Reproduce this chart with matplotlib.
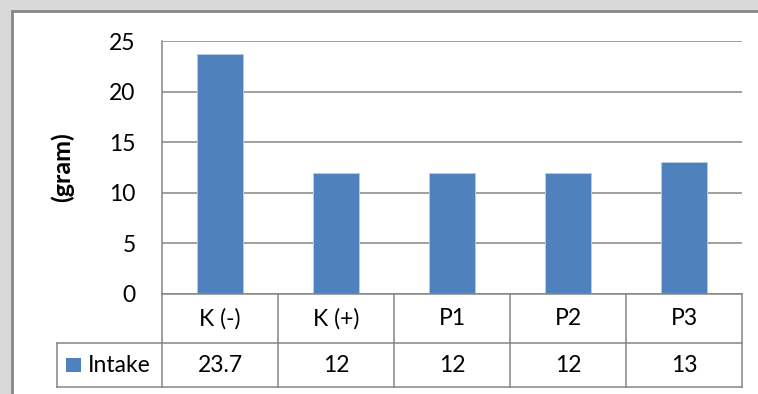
import matplotlib.pyplot as plt
import matplotlib.patches as mpatches

# data
categories = ["K (-)", "K (+)", "P1", "P2", "P3"]
intake = [23.7, 12, 12, 12, 13]
series_name = "Intake"
y_ticks = [0, 5, 10, 15, 20, 25]

plt.rcParams["font.family"] = ["Lato", "DejaVu Sans"]
fs = 16.5

w_pix, h_pix = 758, 394
dpi = 100
fig = plt.figure(figsize=(w_pix / dpi, h_pix / dpi), dpi=dpi, facecolor="#d9d9d9")

# chart frame (cropped on right/bottom)
frame = mpatches.Rectangle((12 / w_pix, -0.1), 1.2, 1 - 11 / h_pix + 0.1,
                           transform=fig.transFigure, facecolor="white",
                           edgecolor="#868686", linewidth=2.0, zorder=-10)
fig.patches.append(frame)

# plot area in pixels
left, top, right, bottom = 162, 41, 742, 294
ax = fig.add_axes([left / w_pix, 1 - bottom / h_pix, (right - left) / w_pix, (bottom - top) / h_pix])
ax.set_facecolor("none")

bar_color = "#4f81bd"
ax.bar(range(len(categories)), intake, width=0.4, color=bar_color,
       edgecolor="#b4cbe8", linewidth=0.7, zorder=3)

ax.set_xlim(-0.5, len(categories) - 0.5)
ax.set_ylim(0, 25)
ax.set_yticks(y_ticks)
ax.yaxis.grid(True, color="#858585", linewidth=1.1, zorder=0)
ax.set_axisbelow(True)
ax.set_xticks([])
ax.tick_params(axis="y", length=0, pad=19, labelsize=fs, labelcolor="black")
for s in ["top", "right", "bottom"]:
    ax.spines[s].set_visible(False)
ax.spines["left"].set_color("#858585")
ax.spines["left"].set_linewidth(1.1)

fig.text(62 / w_pix, 1 - 167.5 / h_pix, "(gram)", rotation=90, ha="center", va="center",
         fontsize=18, fontweight="bold")

# data table below the axis
plot_h = bottom - top
cell_w = (right - left) / len(categories)
r1 = -49 / plot_h
r2 = -93 / plot_h
leg_left = -0.5 - (left - 57) / cell_w
tr = ax.get_xaxis_transform()
line_kw = dict(color="#858585", linewidth=1.1, transform=tr, clip_on=False, zorder=4)

ax.plot([-0.5, len(categories) - 0.5], [0, 0], **line_kw)
ax.plot([leg_left, len(categories) - 0.5], [r1, r1], **line_kw)
ax.plot([leg_left, len(categories) - 0.5], [r2, r2], **line_kw)
ax.plot([leg_left, leg_left], [r1, r2], **line_kw)
for i in range(len(categories) + 1):
    ax.plot([i - 0.5, i - 0.5], [0, r2], **line_kw)

for i, (c, v) in enumerate(zip(categories, intake)):
    ax.text(i, r1 / 2, c, transform=tr, ha="center", va="center", fontsize=fs)
    ax.text(i, (r1 + r2) / 2, f"{v:g}", transform=tr, ha="center", va="center", fontsize=fs)

# legend key in the row header
key_w = 15 / cell_w
ax.add_patch(mpatches.Rectangle((-0.5 - (162 - 66) / cell_w, (r1 + r2) / 2 - 7 / plot_h),
                                key_w, 14 / plot_h, transform=tr, facecolor=bar_color,
                                edgecolor="none", clip_on=False))
ax.text(-0.5 - (162 - 88) / cell_w, (r1 + r2) / 2, series_name, transform=tr,
        ha="left", va="center", fontsize=fs)

fig.savefig("out.png", dpi=dpi, facecolor=fig.get_facecolor())
